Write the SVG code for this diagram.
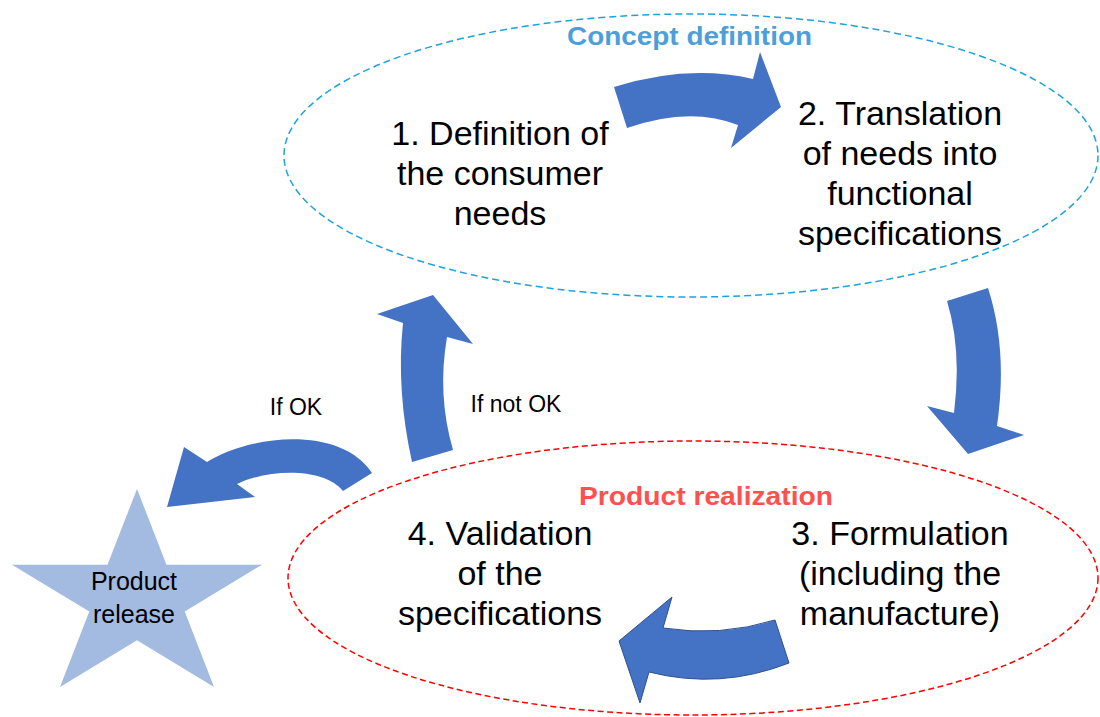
<svg xmlns="http://www.w3.org/2000/svg" width="1100" height="717" viewBox="0 0 1100 717">
  <style>
    .step { font-family: "Liberation Sans", Arial, sans-serif; font-size: 34px; fill: #000; text-anchor: middle; }
    .lbl { font-family: "Liberation Sans", Arial, sans-serif; font-size: 23px; fill: #000; text-anchor: middle; }
    .title { font-family: "Liberation Sans", Arial, sans-serif; font-size: 25px; font-weight: bold; text-anchor: middle; }
    .arrow { fill: #4472C4; }
  </style>
  <rect width="1100" height="717" fill="#ffffff"/>

  <g id="concept-definition">
    <ellipse cx="691" cy="155.5" rx="407" ry="141.5" fill="none" stroke="#1CA3DC" stroke-width="1.5" stroke-dasharray="7,4"/>
    <text class="title" x="689.5" y="45" fill="#4E9FD9" textLength="245" lengthAdjust="spacingAndGlyphs">Concept definition</text>
  </g>

  <g id="product-realization">
    <ellipse cx="693" cy="578" rx="405" ry="137" fill="none" stroke="#FF0000" stroke-width="1.5" stroke-dasharray="6,3.5"/>
    <text class="title" x="706" y="505" fill="#FF5050" textLength="254" lengthAdjust="spacingAndGlyphs">Product realization</text>
  </g>

  <g id="step1">
    <text class="step" x="500" y="145">1. Definition of</text>
    <text class="step" x="500" y="185">the consumer</text>
    <text class="step" x="500" y="225">needs</text>
  </g>

  <g id="step2">
    <text class="step" x="900" y="125">2. Translation</text>
    <text class="step" x="900" y="165">of needs into</text>
    <text class="step" x="900" y="205">functional</text>
    <text class="step" x="900" y="245">specifications</text>
  </g>

  <g id="step3">
    <text class="step" x="900" y="545">3. Formulation</text>
    <text class="step" x="900" y="585">(including the</text>
    <text class="step" x="900" y="625">manufacture)</text>
  </g>

  <g id="step4">
    <text class="step" x="500" y="545">4. Validation</text>
    <text class="step" x="500" y="585">of the</text>
    <text class="step" x="500" y="625">specifications</text>
  </g>

  <g id="product-release">
    <polygon points="137,489 166.5,564.7 262,564.7 184.7,611.4 214,687 137,640.3 60,687 89.3,611.4 12,564.7 107.5,564.7" fill="#A3BAE1"/>
    <text class="lbl" x="134" y="590" style="font-size:25px">Product</text>
    <text class="lbl" x="134" y="623" style="font-size:25px">release</text>
  </g>

  <g id="connectors">
    <path class="arrow" d="M614,87 Q688,64 753,79 L760,52 L781,107 L731,148 L738,125 Q690,106 627,128 Z"/>
    <path class="arrow" d="M947,301 L988,288 Q1008,350 997,426 L1024,435 L968,454 L927,406 L954,413 Q962,350 947,301 Z"/>
    <path class="arrow" d="M775,620 L789,663 Q720,690 649,672 L640,703 L619,641 L672,597 L663,628 Q720,637 775,620 Z" stroke="#2F528F" stroke-width="1"/>
    <path class="arrow" d="M412,462 Q396,390 403,323 L377,314 L433,295 L473,344 L447,337 Q437,395 453,450 Z"/>
    <path class="arrow" d="M372,473 C340,425 250,435 207,462 L184,447 L167,507 L255,497 L237,484 C270,468 325,468 343,491 Z"/>
    <text class="lbl" x="296" y="415">If OK</text>
    <text class="lbl" x="516" y="412">If not OK</text>
  </g>
</svg>
